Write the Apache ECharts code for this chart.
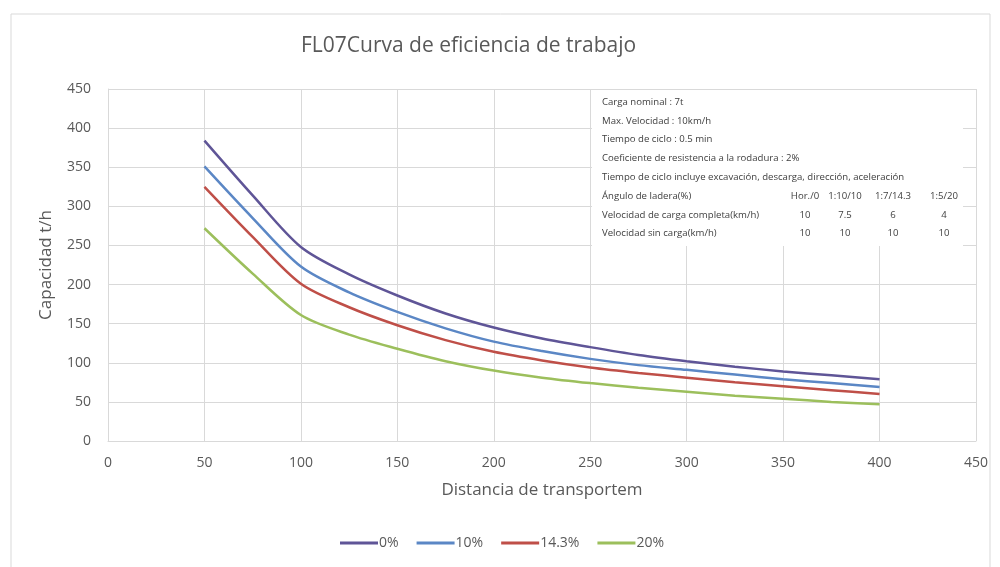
<!DOCTYPE html>
<html>
<head>
<meta charset="utf-8">
<script src="https://cdn.jsdelivr.net/npm/echarts@6/dist/echarts.min.js"></script>
<style>
html,body{margin:0;padding:0;background:#fff;}
#c{width:1000px;height:567px;}
</style>
</head>
<body>
<div id="c"></div>
<script>
const distances = [50, 75, 100, 125, 150, 175, 200, 225, 250, 275, 300, 325, 350, 375, 400];
const seriesNames = ['0%', '10%', '14.3%', '20%'];
const cap0   = [384, 314, 248, 213, 186, 163, 145, 131, 120, 110, 102, 95, 89, 84, 79];
const cap10  = [351, 285, 223, 190, 165, 144, 127, 115, 105, 97, 91, 85, 79, 74, 69];
const cap143 = [325, 261, 201, 171, 148, 129, 114, 103, 94, 87, 81, 75, 70, 65, 60];
const cap20  = [272, 214, 161, 136, 118, 102, 90, 81, 74, 68, 63, 58, 54, 50, 47];
const seriesColors = ['#5f5597', '#5b87c5', '#bf4f48', '#9cbf5c'];

const titleText = 'FL07Curva de eficiencia de trabajo';
const xName = 'Distancia de transportem';
const yName = 'Capacidad t/h';

const infoLines = [
  'Carga nominal : 7t',
  'Max. Velocidad : 10km/h',
  'Tiempo de ciclo : 0.5 min',
  'Coeficiente de resistencia a la rodadura : 2%',
  'Tiempo de ciclo incluye excavación, descarga, dirección, aceleración'
];
const tableRowLabels = ['Ángulo de ladera(%)', 'Velocidad de carga completa(km/h)', 'Velocidad sin carga(km/h)'];
const tableHeaders = ['Hor./0', '1:10/10', '1:7/14.3', '1:5/20'];
const loadedSpeeds = ['10', '7.5', '6', '4'];
const emptySpeeds = ['10', '10', '10', '10'];

const allData = [cap0, cap10, cap143, cap20];
const FONT = '"Open Sans"';

const chart = echarts.init(document.getElementById('c'), null, {renderer: 'canvas'});

const boxX = 592, boxY = 90, boxW = 371, boxH = 156;
const textX = 602, rowY0 = 102, rowStep = 18.8;
const colX = [805, 845, 893, 944];
const infoStyle = {fontFamily: FONT, fontSize: 9.6, fill: '#404040'};
const graphics = [
  {type: 'rect', shape: {x: 11, y: 14, width: 979, height: 570}, style: {fill: 'none', stroke: '#d9d9d9', lineWidth: 1}, z: 0, silent: true},
  {type: 'rect', shape: {x: boxX, y: boxY, width: boxW, height: boxH}, style: {fill: '#ffffff'}, z: 10, silent: true}
];
const rows = infoLines.concat(tableRowLabels);
rows.forEach((t, i) => {
  graphics.push({type: 'text', x: textX, y: rowY0 + i * rowStep, z: 11,
    style: Object.assign({text: t, verticalAlign: 'middle'}, infoStyle)});
});
const tableRows = [tableHeaders, loadedSpeeds, emptySpeeds];
tableRows.forEach((r, ri) => {
  r.forEach((t, ci) => {
    graphics.push({type: 'text', x: colX[ci], y: rowY0 + (infoLines.length + ri) * rowStep, z: 11,
      style: Object.assign({text: t, align: 'center', verticalAlign: 'middle'}, infoStyle)});
  });
});

const option = {
  backgroundColor: '#ffffff',
  animation: false,
  title: {
    text: titleText,
    left: 296,
    top: 31,
    textStyle: {fontFamily: FONT, fontSize: 21, fontWeight: 'normal', color: '#595959'}
  },
  legend: {
    data: seriesNames,
    bottom: 12,
    left: 335,
    itemWidth: 38,
    itemHeight: 3,
    itemGap: 18,
    icon: 'rect',
    textStyle: {fontFamily: FONT, fontSize: 14, color: '#595959', padding: [0, 0, 0, -4]}
  },
  grid: {left: 108, right: 24, top: 89, bottom: 126},
  xAxis: {
    type: 'value',
    min: 0, max: 450, interval: 50,
    name: xName,
    nameLocation: 'middle',
    nameGap: 41,
    nameTextStyle: {fontFamily: FONT, fontSize: 17, color: '#595959'},
    axisLine: {show: true, lineStyle: {color: '#d9d9d9'}},
    axisTick: {show: false},
    axisLabel: {fontFamily: FONT, fontSize: 14, color: '#595959', margin: 15},
    splitLine: {show: true, lineStyle: {color: '#d9d9d9', width: 1}}
  },
  yAxis: {
    type: 'value',
    min: 0, max: 450, interval: 50,
    name: yName,
    nameLocation: 'middle',
    nameGap: 53,
    nameTextStyle: {fontFamily: FONT, fontSize: 17, color: '#595959'},
    axisLine: {show: true, lineStyle: {color: '#d9d9d9'}},
    axisTick: {show: false},
    axisLabel: {fontFamily: FONT, fontSize: 14, color: '#595959', margin: 17},
    splitLine: {show: true, lineStyle: {color: '#d9d9d9', width: 1}}
  },
  series: seriesNames.map((n, i) => ({
    name: n,
    type: 'line',
    smooth: 0.3,
    symbol: 'none',
    data: distances.map((d, j) => [d, allData[i][j]]),
    lineStyle: {color: seriesColors[i], width: 2.5},
    itemStyle: {color: seriesColors[i]},
    z: 2
  })),
  graphic: graphics
};
chart.setOption(option);
</script>
</body>
</html>
